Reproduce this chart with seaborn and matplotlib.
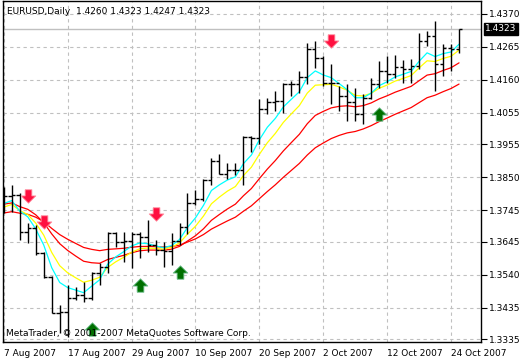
import numpy as np
import pandas as pd
import matplotlib
matplotlib.use("Agg")
import matplotlib.pyplot as plt
from matplotlib.path import Path
import seaborn as sns

# daily EURUSD bars, 7 Aug 2007 .. 25 Oct 2007
dates = pd.bdate_range("2007-08-07", "2007-10-25")
opens = [1.3750, 1.3790, 1.3794, 1.3675, 1.3688, 1.3608, 1.3532, 1.3418, 1.3421, 1.3466,
         1.3475, 1.3466, 1.3545, 1.3564, 1.3672, 1.3643, 1.3646, 1.3668, 1.3660, 1.3634,
         1.3618, 1.3614, 1.3646, 1.3691, 1.3767, 1.3782, 1.3840, 1.3903, 1.3862, 1.3872,
         1.3872, 1.3977, 1.3976, 1.4067, 1.4089, 1.4094, 1.4147, 1.4147, 1.4170, 1.4258,
         1.4231, 1.4150, 1.4150, 1.4110, 1.4090, 1.4052, 1.4104, 1.4147, 1.4189, 1.4180,
         1.4200, 1.4195, 1.4205, 1.4284, 1.4300, 1.4211, 1.4262, 1.4260]
highs = [1.3818, 1.3824, 1.3799, 1.3703, 1.3698, 1.3611, 1.3535, 1.3443, 1.3507, 1.3500,
         1.3516, 1.3548, 1.3577, 1.3675, 1.3675, 1.3675, 1.3675, 1.3675, 1.3713, 1.3650,
         1.3643, 1.3672, 1.3703, 1.3799, 1.3808, 1.3846, 1.3913, 1.3925, 1.3894, 1.3894,
         1.3983, 1.3983, 1.4100, 1.4103, 1.4126, 1.4151, 1.4157, 1.4189, 1.4278, 1.4284,
         1.4237, 1.4211, 1.4141, 1.4148, 1.4135, 1.4116, 1.4167, 1.4221, 1.4237, 1.4240,
         1.4224, 1.4227, 1.4310, 1.4316, 1.4348, 1.4275, 1.4275, 1.4323]
lows = [1.3735, 1.3738, 1.3650, 1.3640, 1.3602, 1.3529, 1.3418, 1.3355, 1.3342, 1.3459,
        1.3453, 1.3459, 1.3507, 1.3545, 1.3627, 1.3580, 1.3560, 1.3592, 1.3611, 1.3602,
        1.3564, 1.3570, 1.3634, 1.3668, 1.3761, 1.3776, 1.3824, 1.3862, 1.3846, 1.3856,
        1.3824, 1.3929, 1.3957, 1.4053, 1.4062, 1.4056, 1.4110, 1.4119, 1.4148, 1.4199,
        1.4141, 1.4084, 1.4062, 1.4030, 1.4030, 1.4021, 1.4100, 1.4135, 1.4151, 1.4167,
        1.4150, 1.4151, 1.4195, 1.4268, 1.4126, 1.4173, 1.4189, 1.4247]
closes = [1.3790, 1.3794, 1.3675, 1.3688, 1.3608, 1.3532, 1.3418, 1.3421, 1.3466, 1.3475,
          1.3466, 1.3545, 1.3564, 1.3672, 1.3643, 1.3646, 1.3668, 1.3660, 1.3634, 1.3618,
          1.3614, 1.3646, 1.3691, 1.3767, 1.3782, 1.3840, 1.3903, 1.3862, 1.3872, 1.3872,
          1.3977, 1.3976, 1.4067, 1.4089, 1.4094, 1.4147, 1.4147, 1.4170, 1.4258, 1.4231,
          1.4150, 1.4150, 1.4110, 1.4090, 1.4052, 1.4104, 1.4147, 1.4189, 1.4180, 1.4200,
          1.4195, 1.4205, 1.4284, 1.4300, 1.4211, 1.4262, 1.4260, 1.4323]

# moving averages: (span, value just before the first bar, colour)
ma_specs = [(26, 1.3732, "#ff0000"), (15, 1.3761, "#ff0000"),
            (8, 1.3745, "#ffff00"), (5, 1.3755, "#00ffff")]

# fractal-style arrows: bar index and price level
down_idx = [3, 5, 19, 41]
down_px = [1.3789, 1.3708, 1.3732, 1.4284]
up_idx = [11, 17, 22, 47]
up_px = [1.3368, 1.3506, 1.3548, 1.4053]

y_ticks = [1.4370, 1.4265, 1.4160, 1.4055, 1.3955, 1.3850, 1.3745, 1.3645,
           1.3540, 1.3435, 1.3335]
x_labels = ["7 Aug 2007", "17 Aug 2007", "29 Aug 2007", "10 Sep 2007",
            "20 Sep 2007", "2 Oct 2007", "12 Oct 2007", "24 Oct 2007"]

sns.set_style("white")
plt.rcParams["font.family"] = ["DejaVu Sans"]
FS = 6.5

idx = np.arange(len(dates))
df = pd.DataFrame({"i": idx, "o": opens, "h": highs, "l": lows, "c": closes})

fig = plt.figure(figsize=(5.2, 3.6), dpi=100)
ax = fig.add_axes([3 / 520, 18 / 360, 478 / 520, 341 / 360])

# bars
ax.vlines(df.i, df.l, df.h, color="black", lw=1.0, zorder=3)
ax.hlines(df.o, df.i - 0.42, df.i, color="black", lw=1.0, zorder=3)
ax.hlines(df.c, df.i, df.i + 0.42, color="black", lw=1.0, zorder=3)

# moving averages
for span, seed, col in ma_specs:
    s = pd.concat([pd.Series([seed]), df.c], ignore_index=True)
    df["ma%d" % span] = s.ewm(span=span, adjust=False).mean().iloc[1:].values
    sns.lineplot(data=df, x="i", y="ma%d" % span, color=col, lw=0.9, ax=ax, zorder=2)

# arrows
down = Path([(-0.3, 0.6), (0.3, 0.6), (0.3, 0.05), (0.65, 0.05), (0, -0.6),
             (-0.65, 0.05), (-0.3, 0.05), (-0.3, 0.6)])
up = Path([(x, -y) for x, y in down.vertices])
ax.scatter(down_idx, down_px, marker=down, s=110, color="#ff1040",
           edgecolor="#ff8fa0", lw=0.6, zorder=4)
ax.scatter(up_idx, up_px, marker=up, s=110, color="#007000",
           edgecolor="#6fbf8f", lw=0.6, zorder=4)

# last price line
last = closes[-1]
ax.axhline(last, color="#c0c0c0", lw=1.0, zorder=1)

ax.set_xlim(-0.1, 59.75)
ax.set_ylim(1.33256, 1.44113)
ax.set_xticks(idx[::8])
ax.set_xticklabels(x_labels, ha="left")
ax.set_yticks(y_ticks)
ax.set_yticklabels(["%.4f" % v for v in y_ticks])
ax.yaxis.tick_right()
ax.set_xlabel("")
ax.set_ylabel("")
ax.grid(True, color="#c0c0c0", ls=(0, (3, 3)), lw=0.8)
ax.tick_params(axis="both", direction="out", length=4, width=0.8,
               labelsize=FS, colors="black", pad=2)
ax.tick_params(axis="x", pad=1)
for sp in ax.spines.values():
    sp.set_color("black")
    sp.set_linewidth(1.0)

ax.annotate("%.4f" % last, xy=(1.0, last), xycoords=("axes fraction", "data"),
            xytext=(3, 0), textcoords="offset points", va="center", ha="left",
            fontsize=FS, color="white",
            bbox=dict(boxstyle="square,pad=0.15", fc="black", ec="black"))

fig.text(7 / 520, 1 - 11 / 360, "EURUSD,Daily  %.4f %.4f %.4f %.4f"
         % (opens[-1], highs[-1], lows[-1], closes[-1]),
         fontsize=FS, va="center", ha="left", color="black")
fig.text(6 / 520, 1 - 334 / 360, "MetaTrader, \u00a9 2001-2007 MetaQuotes Software Corp.",
         fontsize=FS, va="center", ha="left", color="black")

fig.savefig("out.png", dpi=100, facecolor="white")
